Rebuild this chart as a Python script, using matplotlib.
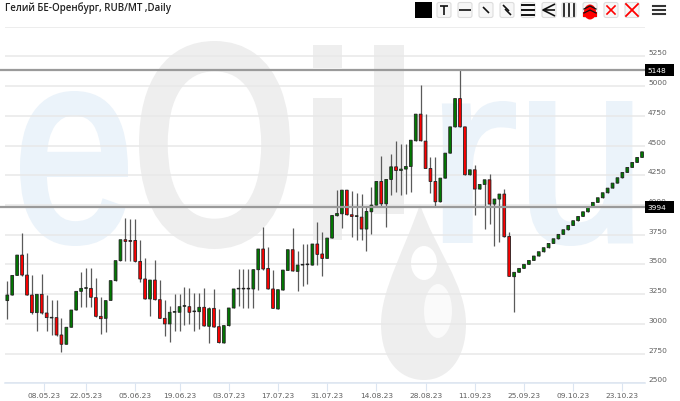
import matplotlib
matplotlib.use("Agg")
import matplotlib.pyplot as plt
from matplotlib.patches import PathPatch, Rectangle, FancyBboxPatch, Ellipse
from matplotlib.path import Path
from matplotlib.textpath import TextPath
from matplotlib.font_manager import FontProperties
from matplotlib.transforms import Affine2D, ScaledTranslation
import numpy as np

W, H = 680, 402

title = "Гелий БЕ-Оренбург, RUB/MT ,Daily"

opens = [3196, 3243, 3408, 3579, 3411, 3243, 3095, 3249, 3092, 3056,
         3053, 2907, 2829, 2972, 3117, 3274, 3299, 3299, 3221, 3064,
         3047, 3198, 3364, 3532, 3708, 3702, 3702, 3526, 3378, 3210,
         3369, 3204, 3047, 3000, 3098, 3098, 3148, 3145, 3103, 3103,
         3140, 2980, 3131, 2977, 2840, 2986, 3134, 3294, 3294, 3294,
         3294, 3456, 3630, 3467, 3294, 3126, 3285, 3450, 3624, 3442,
         3495, 3498, 3495, 3672, 3588, 3551, 3722, 3910, 3926, 4125,
         3918, 3904, 3898, 3798, 3943, 3999, 4198, 4010, 4215, 4321,
         4290, 4302, 4324, 4540, 4764, 4537, 4307, 4198, 4027, 4226,
         4436, 4657, 4895, 4657, 4254, 4296, 4134, 4173, 4212, 4008,
         4050, 4092, 3736, 3397, 3434, 3467, 3501, 3534, 3571, 3607,
         3641, 3677, 3716, 3753, 3792, 3828, 3868, 3904, 3943, 3985,
         4022, 4061, 4103, 4142, 4184, 4229, 4274, 4316, 4358, 4400]
closes = [3243, 3408, 3579, 3411, 3243, 3095, 3249, 3092, 3053, 3050,
          2907, 2829, 2972, 3117, 3274, 3299, 3299, 3224, 3064, 3044,
          3196, 3364, 3532, 3708, 3694, 3694, 3526, 3378, 3210, 3369,
          3204, 3047, 3000, 3098, 3098, 3145, 3148, 3098, 3103, 3140,
          2983, 3128, 2974, 2843, 2986, 3134, 3294, 3294, 3294, 3294,
          3456, 3630, 3462, 3294, 3131, 3288, 3453, 3624, 3445, 3495,
          3495, 3498, 3672, 3585, 3551, 3722, 3912, 3929, 4125, 3918,
          3904, 3904, 3798, 3946, 3999, 4198, 4010, 4215, 4321, 4290,
          4302, 4324, 4545, 4764, 4540, 4307, 4198, 4027, 4226, 4436,
          4657, 4895, 4657, 4254, 4296, 4134, 4173, 4212, 4008, 4050,
          4092, 3733, 3400, 3434, 3467, 3501, 3534, 3571, 3607, 3641,
          3677, 3716, 3753, 3792, 3828, 3868, 3904, 3943, 3985, 4022,
          4061, 4103, 4142, 4184, 4229, 4274, 4316, 4358, 4400, 4447]
highs = [3358, 3408, 3579, 3761, 3593, 3411, 3252, 3420, 3246, 3204,
         3204, 3053, 2972, 3117, 3274, 3439, 3467, 3467, 3383, 3224,
         3196, 3364, 3532, 3708, 3887, 3882, 3882, 3702, 3551, 3369,
         3540, 3369, 3201, 3154, 3252, 3252, 3308, 3302, 3257, 3257,
         3299, 3140, 3291, 3126, 2986, 3134, 3294, 3459, 3459, 3459,
         3459, 3630, 3812, 3644, 3453, 3288, 3453, 3624, 3806, 3613,
         3672, 3672, 3672, 3859, 3770, 3722, 3912, 4125, 4125, 4125,
         4117, 4100, 4092, 3980, 4148, 4198, 4408, 4218, 4428, 4537,
         4512, 4512, 4545, 4764, 5007, 4764, 4400, 4405, 4226, 4436,
         4657, 4895, 5136, 4657, 4296, 4338, 4173, 4212, 4257, 4050,
         4092, 4134, 3770, 3434, 3467, 3501, 3534, 3571, 3607, 3641,
         3677, 3716, 3753, 3792, 3828, 3868, 3904, 3943, 3985, 4022,
         4061, 4103, 4142, 4184, 4229, 4274, 4316, 4358, 4400, 4447]
lows = [3042, 3243, 3408, 3406, 3243, 3086, 2944, 3084, 2944, 2907,
        2902, 2767, 2829, 2972, 3117, 3140, 3140, 3140, 3061, 2918,
        2935, 3198, 3364, 3532, 3526, 3526, 3523, 3350, 3210, 3070,
        3204, 3047, 2902, 2851, 2944, 2944, 2991, 3000, 2944, 2958,
        2980, 2837, 2972, 2837, 2840, 2986, 3134, 3148, 3134, 3134,
        3131, 3288, 3456, 3294, 3131, 3126, 3285, 3450, 3442, 3274,
        3322, 3336, 3495, 3495, 3406, 3551, 3722, 3910, 3806, 3918,
        3728, 3708, 3705, 3610, 3758, 3999, 3994, 3817, 4083, 4106,
        4083, 4092, 4111, 4540, 4540, 4307, 4097, 3985, 4027, 4226,
        4436, 4657, 4657, 4254, 4254, 3915, 4134, 3798, 3840, 3658,
        3691, 3733, 3400, 3098, 3434, 3467, 3501, 3534, 3571, 3607,
        3641, 3677, 3716, 3753, 3792, 3828, 3868, 3904, 3943, 3985,
        4022, 4061, 4103, 4142, 4184, 4229, 4274, 4316, 4358, 4400]

y_ticks = [2500, 2750, 3000, 3250, 3500, 3750, 4000, 4250, 4500, 4750, 5000, 5250]
date_pos = [7.5, 16, 26, 35, 45, 55, 65, 75, 85, 95, 105, 115, 125]
date_labels = ["08.05.23", "22.05.23", "05.06.23", "19.06.23", "03.07.23", "17.07.23", "31.07.23",
               "14.08.23", "28.08.23", "11.09.23", "25.09.23", "09.10.23", "23.10.23"]
line_levels = [5138, 3985]
line_labels = ["5148", "3994"]

GRID = "#e8e8e8"
GREEN = "#007a00"
RED = "#ff0000"

fig = plt.figure(figsize=(W / 100, H / 100), dpi=100)

bg = fig.add_axes([0, 0, 1, 1], zorder=0)
bg.set_xlim(0, W)
bg.set_ylim(H, 0)
bg.axis("off")

# watermark letters, each stretched into its own box
font = FontProperties(family="Liberation Sans")


def letter(ch, x0, x1, y0, y1, color, grow=0):
    tp = TextPath((0, 0), ch, size=100, prop=font)
    b = tp.get_extents()
    x0, x1, y0, y1 = x0 + grow / 2, x1 - grow / 2, y0 + grow / 2, y1 - grow / 2
    tr = Affine2D().translate(-b.x0, -b.y0).scale((x1 - x0) / b.width, -(y1 - y0) / b.height).translate(x0, y1)
    bg.add_patch(PathPatch(tr.transform_path(tp), fc=color, ec=color if grow else "none", lw=grow * 0.72))


BLUE_W = "#ebf3fa"
GRAY_W = "#eeeeee"
letter("e", 20, 128, 92, 247, BLUE_W, 7)
letter("O", 139, 290, 42, 250, GRAY_W, 9)
letter("i", 313, 342, 46, 241, GRAY_W)
letter("l", 374, 404, 46, 215, GRAY_W)
letter("r", 442, 516, 102, 244, BLUE_W, 6)
letter("u", 529, 633, 102, 247, BLUE_W, 6)

# the drop under the l
drop = Path([(420, 205), (405, 250), (381, 290), (381, 325), (381, 362), (400, 381), (424, 381),
             (448, 381), (466, 360), (466, 325), (466, 285), (435, 250), (420, 205)],
            [Path.MOVETO] + [Path.CURVE4] * 12)
bg.add_patch(PathPatch(drop, fc=GRAY_W, ec="none"))
bg.add_patch(Ellipse((424, 264), 26, 34, fc="white", ec="none"))
bg.add_patch(Ellipse((438, 312), 28, 54, fc="#fafafa", ec="none"))

# toolbar
bg.add_patch(Rectangle((415, 3), 17, 16, fc="black", ec="none"))
btn_x = [444, 465, 486, 507, 528, 549, 569, 590, 611, 632]
for cx in btn_x:
    bg.add_patch(FancyBboxPatch((cx - 6.5, 4), 13, 14, boxstyle="round,pad=0.5,rounding_size=2",
                                fc="#f7f7f7", ec="#dddddd", lw=0.8))
k = dict(color="#111111", lw=1.2, solid_capstyle="butt")
bg.plot([440, 448], [7, 7], **k)
bg.plot([444, 444], [7, 16], **k)
bg.plot([459, 471], [11, 11], **k)
bg.plot([483, 489], [8, 14], **k)
bg.plot([503, 509], [6, 12], **k)
bg.plot([505, 511], [10, 16], **k)
for yy in (6, 11, 16):
    bg.plot([522, 534], [yy, yy], color="#111111", lw=1.4)
bg.plot([555, 543, 555], [5, 11, 11], **k)
bg.plot([543, 555], [11, 17], **k)
for xx in (564, 569, 574):
    bg.plot([xx, xx], [5, 17], color="#222222", lw=1.3)
bg.add_patch(Ellipse((590, 13), 12, 15, fc=RED, ec="none"))
bg.add_patch(Rectangle((583, 13), 14, 5, fc=RED, ec="none"))
for yy in (10, 14):
    bg.plot([584, 590, 596], [yy, yy - 3, yy], color="#111111", lw=0.9)
bg.plot([607, 615], [7, 15], color=RED, lw=1.2)
bg.plot([607, 615], [15, 7], color=RED, lw=1.2)
bg.plot([626, 638], [5, 17], color=RED, lw=1.3)
bg.plot([626, 638], [17, 5], color=RED, lw=1.3)
for yy in (6.5, 10.5, 14.5):
    bg.plot([653, 665], [yy, yy], color="#333333", lw=1.5)

fig.text(5 / W, 1 - 8 / H, title, fontsize=7.05, color="#222222", va="center",
         family=["Open Sans", "DejaVu Sans"], fontweight="semibold")

# main chart, 5500 is drawn but not labelled
ax = fig.add_axes([5 / W, 1 - 384.4 / H, 640 / W, 356.8 / H], zorder=1)
ax.patch.set_visible(False)
ax.set_xlim(-0.467, 129.6)
ax.set_ylim(2500, 5500)
ax.yaxis.tick_right()
ax.set_yticks(y_ticks)
ax.set_xticks(date_pos)
ax.set_xticklabels(date_labels)
ax.grid(axis="y", color=GRID, lw=1.1)
ax.axhline(5500, color=GRID, lw=1.1)
ax.set_axisbelow(True)
ax.tick_params(axis="y", length=0, pad=2.2, labelsize=5.4, labelcolor="#5f5f5f")
ax.tick_params(axis="x", length=6, width=0.8, color="#dbe5f1", pad=0.5, labelsize=5.4, labelcolor="#5f5f5f")
# the price labels sit a little above their grid lines
up = ScaledTranslation(0, 4.5 / 100, fig.dpi_scale_trans)
for t in ax.get_yticklabels():
    t.set_transform(t.get_transform() + up)
for s in ("top", "left", "right"):
    ax.spines[s].set_visible(False)
ax.spines["bottom"].set_color("#dbe5f1")
ax.spines["bottom"].set_linewidth(1.1)

idx = np.arange(len(opens))
o = np.array(opens)
c = np.array(closes)
ax.vlines(idx, lows, highs, color="#5a5a5a", lw=0.9, zorder=3)
cols = [GREEN if b >= a else RED for a, b in zip(o, c)]
bars = ax.bar(idx, np.maximum(np.abs(c - o), 6), bottom=np.minimum(o, c), width=0.56, color=cols,
              edgecolor="#222222", linewidth=0.6, zorder=4)
for b in bars:
    b.set_snap(False)

tr = ax.get_yaxis_transform()
for lev, lab in zip(line_levels, line_labels):
    ax.axhline(lev, xmin=-5 / 640, xmax=1, color="#9a9a9a", lw=1.6, clip_on=False, zorder=5)
    ax.add_patch(Rectangle((1.0, lev - 50), 29 / 640, 100, transform=tr, fc="black", ec="none",
                           clip_on=False, zorder=6))
    ax.text(1 + 2 / 640, lev, lab, transform=tr, color="white", fontsize=5.4, va="center", ha="left",
            clip_on=False, zorder=7)

fig.savefig("out.png", dpi=100)
